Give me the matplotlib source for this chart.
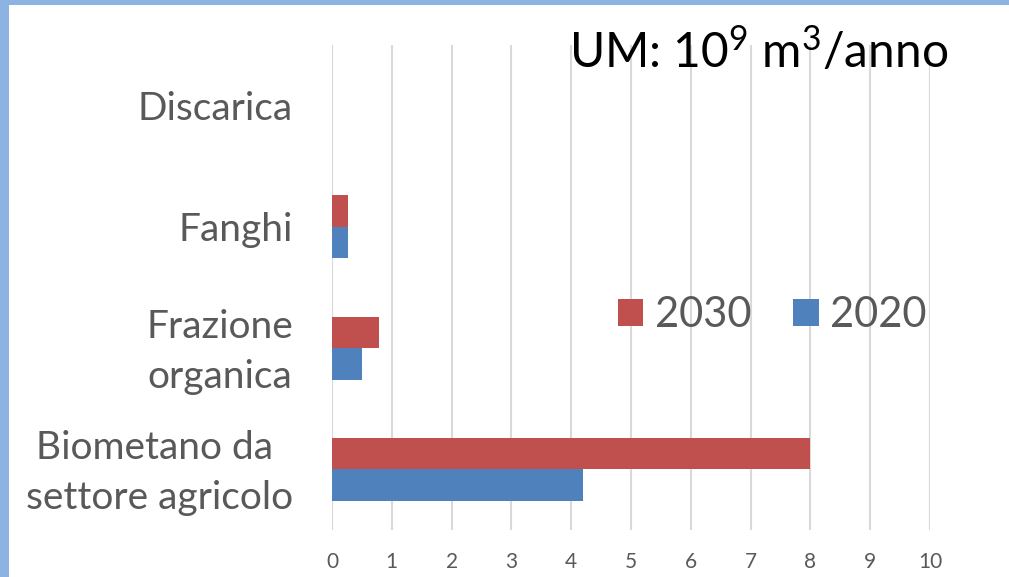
import matplotlib
matplotlib.use("Agg")
import matplotlib.pyplot as plt
from matplotlib.patches import Rectangle
from matplotlib.transforms import ScaledTranslation
import numpy as np

plt.rcParams['font.family'] = ['Lato', 'DejaVu Sans']
plt.rcParams['mathtext.fontset'] = 'custom'
plt.rcParams['mathtext.rm'] = 'Lato'
plt.rcParams['mathtext.it'] = 'Lato'

categories = ["Biometano da \nsettore agricolo", "Frazione\norganica", "Fanghi", "Discarica"]
values_2020 = [4.2, 0.5, 0.27, 0.0]
values_2030 = [8.0, 0.79, 0.27, 0.0]
x_ticks = [0, 1, 2, 3, 4, 5, 6, 7, 8, 9, 10]

RED = "#C0504D"
BLUE = "#4F81BD"
TXT = "#595959"
GRID = "#D9D9D9"

W, H = 1009, 577
fig = plt.figure(figsize=(W / 100, H / 100), dpi=100)

# light blue frame on the left and top edges
fig.patches.append(Rectangle((0, 0), 8.5 / W, 1, transform=fig.transFigure,
                             facecolor="#8DB3E2", edgecolor="none", zorder=0))
fig.patches.append(Rectangle((0, 1 - 5 / H), 1, 5 / H, transform=fig.transFigure,
                             facecolor="#8DB3E2", edgecolor="none", zorder=0))

ax_l, ax_r, ax_t, ax_b = 332, 930, 45, 530
ax = fig.add_axes([ax_l / W, 1 - ax_b / H, (ax_r - ax_l) / W, (ax_b - ax_t) / H])

y = np.arange(len(categories))
bh = 0.26
ax.barh(y - bh / 2, values_2020, height=bh, color=BLUE, label="2020", zorder=3)
ax.barh(y + bh / 2, values_2030, height=bh, color=RED, label="2030", zorder=3)

ax.set_xlim(0, 10)
ax.set_ylim(-0.5, len(categories) - 0.5)
ax.set_xticks(x_ticks)
ax.set_xticklabels([str(t) for t in x_ticks])
ax.set_yticks(y)
ax.set_yticklabels(categories, multialignment="center", linespacing=1.5)

ax.grid(axis="x", color=GRID, linewidth=1.5, zorder=0)
for s in ax.spines.values():
    s.set_visible(False)
ax.tick_params(axis="both", length=0)
ax.tick_params(axis="x", labelsize=15, colors=TXT, pad=16)
ax.tick_params(axis="y", labelsize=28, colors=TXT, pad=28)

# nudge two-line category labels up a little
for lbl in ax.get_yticklabels():
    if "\n" in lbl.get_text():
        lbl.set_transform(lbl.get_transform() + ScaledTranslation(0, 0.07, fig.dpi_scale_trans))

handles, labels = ax.get_legend_handles_labels()
leg = fig.legend(handles[::-1], labels[::-1], loc="center", ncol=2,
                 bbox_to_anchor=(772 / W, 1 - 315 / H), frameon=False,
                 fontsize=30, labelcolor=TXT, handlelength=0.62, handleheight=0.62,
                 handletextpad=0.27, columnspacing=1.0)

fig.text(948 / W, 1 - 68 / H, r"UM: 10$^{9}$ m$^{3}$/anno", ha="right", va="baseline",
         fontsize=34.5, color="black")

fig.savefig("out.png", dpi=100)
